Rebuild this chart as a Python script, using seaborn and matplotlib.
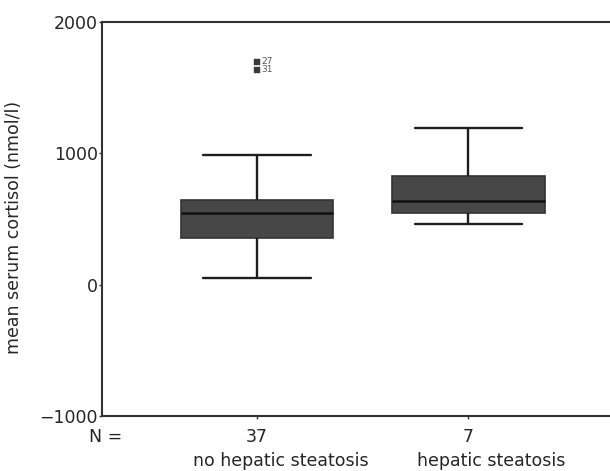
import pandas as pd
import matplotlib
matplotlib.use("Agg")
import matplotlib.pyplot as plt
import seaborn as sns

# five-number summaries (min, q1, median, q3, max)
groups = ["no hepatic steatosis", "hepatic steatosis"]
counts = [37, 7]
no_steatosis = [53, 358, 548, 647, 990]
steatosis = [465, 548, 640, 830, 1196]
# flagged outliers in the first group
outlier_values = [1698, 1637]
outlier_ids = ["27", "31"]

df = pd.DataFrame({
    "group": [groups[0]] * len(no_steatosis) + [groups[1]] * len(steatosis),
    "cortisol": no_steatosis + steatosis,
})
out_df = pd.DataFrame({"group": [groups[0]] * len(outlier_values), "cortisol": outlier_values})

sns.set_style("white")
plt.rcParams['font.family'] = ['DejaVu Sans']
fs = 12.5

fig = plt.figure(figsize=(6.1, 4.71), dpi=100)
ax = fig.add_axes([0.167, 0.117, 0.833, 0.836])

line = dict(color="#1e1e1e", linewidth=1.7)
sns.boxplot(data=df, x="group", y="cortisol", order=groups, ax=ax,
            width=0.72, whis=10, color="#474747", saturation=1,
            boxprops=dict(facecolor="#474747", edgecolor="#333333", linewidth=1.2),
            medianprops=dict(color="#111111", linewidth=1.8),
            whiskerprops=line, capprops=line, showfliers=False)
# whisker caps are narrower than the boxes
for cap in ax.lines:
    xd = cap.get_xdata()
    if len(xd) == 2 and xd[0] != xd[1] and abs((xd[1] - xd[0]) - 0.36) < 1e-6:
        mid = (xd[0] + xd[1]) / 2
        cap.set_xdata([mid - 0.255, mid + 0.255])

sns.scatterplot(data=out_df, x="group", y="cortisol", ax=ax, marker="s",
                s=14, color="#3a3a3a", edgecolor="#3a3a3a", legend=False)
for v, lab in zip(outlier_values, outlier_ids):
    ax.text(0.02, v, lab, fontsize=6.5, color="#555555", va="center", ha="left")

ax.set_xlim(-0.735, 1.67)
ax.set_ylim(-1000, 2000)
ax.set_yticks([-1000, 0, 1000, 2000])
ax.set_yticklabels(["\u22121000", "0", "1000", "2000"])
ax.set_xticks([0, 1])
ax.set_xticklabels([str(n) for n in counts])
ax.set_xlabel("")
ax.set_ylabel("")
ax.tick_params(axis="both", labelsize=fs, length=2, width=1, color="#333333",
               direction="out", bottom=True, left=True)
ax.tick_params(axis="x", pad=7)
ax.tick_params(axis="y", pad=1)

# group names sit a bit right of their ticks
for i, g in enumerate(groups):
    ax.text(i + 0.11, -0.114, g, transform=ax.get_xaxis_transform(),
            ha="center", va="center", fontsize=fs)
fig.text(106 / 610, 1 - 437 / 471, "N =", ha="center", va="center", fontsize=fs)
fig.text(14 / 610, 1 - 227 / 471, "mean serum cortisol (nmol/l)", rotation=90,
         ha="center", va="center", fontsize=fs)

for side in ["left", "bottom", "top"]:
    ax.spines[side].set_color("#333333")
    ax.spines[side].set_linewidth(1.5)
ax.spines["right"].set_visible(False)

fig.savefig("out.png", dpi=100)
